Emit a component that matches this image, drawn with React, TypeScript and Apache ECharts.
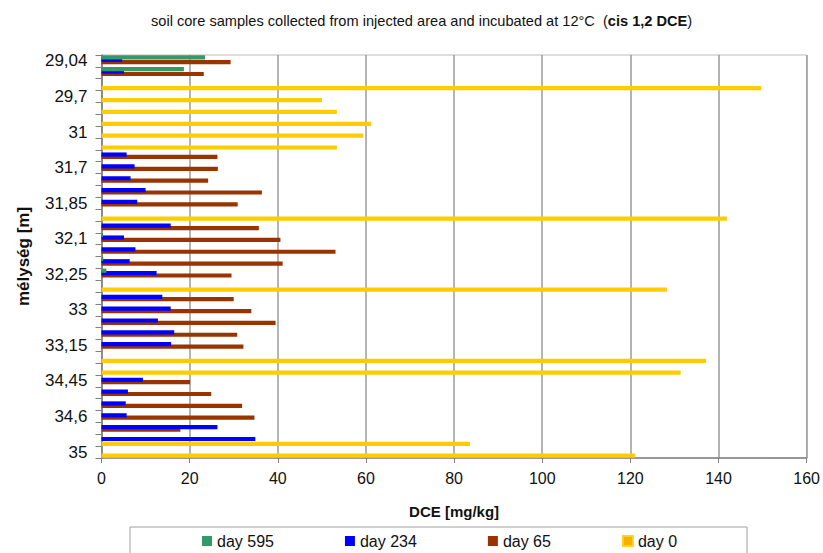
import React, { useEffect, useRef } from "react";
import * as echarts from "echarts";

// Depth labels shown on every third row of the category axis
const depthLabels = ["29,04", "29,7", "31", "31,7", "31,85", "32,1", "32,25", "33", "33,15", "34,45", "34,6", "35"];

// One entry per sample row (top to bottom); null = not measured
const day595: (number | null)[] = [
  23.5, 18.7, null, null, null, null, null, null, null, null, null, null, null, null, null, 0.3, null,
  0.4, 1.1, null, null, null, null, null, null, null, null, null, null, null, null, null, null, null,
];
const day234: (number | null)[] = [
  4.7, 5.1, null, null, null, null, null, null, 5.7, 7.5, 6.6, 10.0, 8.1, null, 15.7, 5.1, 7.7,
  6.4, 12.5, null, 13.8, 15.7, 12.8, 16.5, 15.8, null, null, 9.4, 6.0, 5.5, 5.7, 26.3, 34.9, null,
];
const day65: (number | null)[] = [
  29.3, 23.2, null, null, null, null, null, null, 26.3, 26.4, 24.2, 36.4, 30.9, null, 35.7, 40.6, 53.1,
  41.1, 29.5, null, 30.0, 34.0, 39.5, 30.8, 32.2, null, null, 20.1, 24.9, 31.9, 34.7, 17.9, null, null,
];
const day0: (number | null)[] = [
  null, null, 149.7, 50.0, 53.4, 61.2, 59.4, 53.4, null, null, null, null, null, 141.9, null, null, null,
  null, null, 128.3, null, null, null, null, null, 137.2, 131.4, null, null, null, null, null, 83.6, 121.1,
];

const rowIds = day0.map((_, i) => String(i));

const FONT = "'Liberation Sans', Arial, sans-serif";

export default function App() {
  const ref = useRef<HTMLDivElement>(null);

  useEffect(() => {
    if (!ref.current) return;
    const chart = echarts.init(ref.current, undefined, { renderer: "svg" });
    const barW = 4.2;
    const gap = "-43%";
    chart.setOption({
      animation: false,
      backgroundColor: "#ffffff",
      textStyle: { fontFamily: FONT },
      title: {
        left: 146,
        top: 8,
        text: "{a|soil core samples collected from injected area and incubated at 12°C  (}{b|cis 1,2 DCE}{a|)}",
        textStyle: {
          fontWeight: "normal",
          rich: {
            a: { fontFamily: FONT, fontSize: 14.6, fontWeight: "normal", color: "#111" },
            b: { fontFamily: FONT, fontSize: 14.6, fontWeight: "bold", color: "#111" },
          },
        },
      },
      legend: {
        left: 197,
        top: 528,
        itemGap: 71,
        itemWidth: 10,
        itemHeight: 10,
        icon: "rect",
        textStyle: { fontFamily: FONT, fontSize: 16, color: "#111" },
        data: [
          { name: "day 595" },
          { name: "day 234" },
          { name: "day 65" },
          { name: "day 0", itemStyle: { color: "#F5B000", borderColor: "#FFD21F", borderWidth: 2 } },
        ],
      },
      graphic: [
        {
          type: "rect",
          shape: { x: 130, y: 527, width: 617, height: 40 },
          style: { fill: "none", stroke: "#a0a0a0", lineWidth: 1 },
          silent: true,
        },
      ],
      grid: {
        left: 101.5,
        right: 16,
        top: 55,
        bottom: 95,
        show: true,
        borderColor: "#bdbdbd",
        borderWidth: 1,
      },
      xAxis: {
        type: "value",
        min: 0,
        max: 160,
        interval: 20,
        name: "DCE [mg/kg]",
        nameLocation: "middle",
        nameGap: 46,
        nameTextStyle: { fontFamily: FONT, fontSize: 15, fontWeight: "bold", color: "#111" },
        axisLine: { show: true, lineStyle: { color: "#808080", width: 1.5 } },
        axisTick: { show: true, length: 5, lineStyle: { color: "#808080" } },
        axisLabel: { margin: 12, fontFamily: FONT, fontSize: 16, color: "#111" },
        splitLine: { show: true, lineStyle: { color: "#9a9a9a", width: 1.5 } },
      },
      yAxis: {
        type: "category",
        inverse: true,
        data: rowIds,
        name: "mélység [m]",
        nameLocation: "middle",
        nameGap: 70,
        nameTextStyle: { fontFamily: FONT, fontSize: 17, fontWeight: "bold", color: "#111" },
        axisLine: { show: true, lineStyle: { color: "#808080", width: 1.5 } },
        axisTick: { show: true, interval: 0, length: 6, alignWithLabel: false, lineStyle: { color: "#808080" } },
        axisLabel: {
          interval: 2,
          margin: 14,
          fontFamily: FONT,
          fontSize: 17,
          color: "#111",
          formatter: (_v: string, idx: number) => (idx % 3 === 0 ? depthLabels[idx / 3] : ""),
        },
        splitLine: { show: false },
      },
      series: [
        { name: "day 595", type: "bar", data: day595, barWidth: barW, barGap: gap, z: 5, itemStyle: { color: "#339966" } },
        { name: "day 234", type: "bar", data: day234, barWidth: barW, barGap: gap, z: 4, itemStyle: { color: "#0000FF" } },
        { name: "day 65", type: "bar", data: day65, barWidth: barW, barGap: gap, z: 3, itemStyle: { color: "#993300" } },
        { name: "day 0", type: "bar", data: day0, barWidth: barW, barGap: gap, z: 2, itemStyle: { color: "#FFCC00" } },
      ],
    });
    return () => chart.dispose();
  }, []);

  return <div ref={ref} style={{ width: 823, height: 553, position: "absolute", left: 0, top: 0 }} />;
}
